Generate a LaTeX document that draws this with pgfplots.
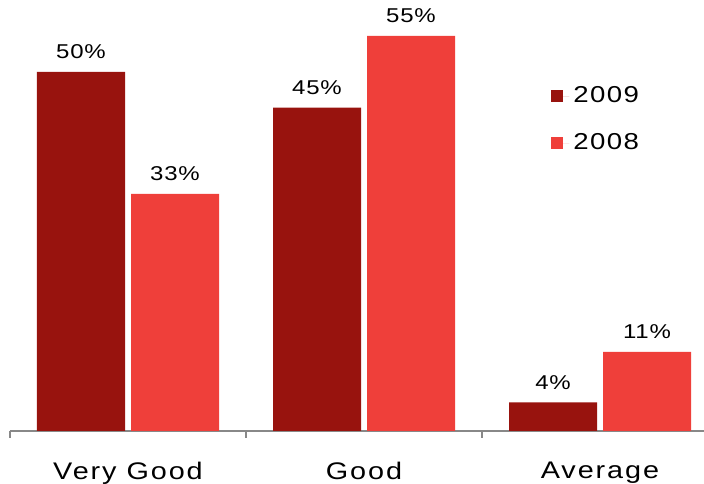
\documentclass[border=0pt]{standalone}
\usepackage{pgfplots}
\pgfplotsset{compat=1.18}
\usepackage{fontspec}
\setmainfont{Liberation Sans}
\definecolor{dk}{HTML}{98130E}
\definecolor{lt}{HTML}{EF3F3A}
\definecolor{axgray}{HTML}{888888}
\newfontfamily\labfont[FakeStretch=1.2,LetterSpace=8]{Liberation Sans}
\newfontfamily\legfont[FakeStretch=1.2,LetterSpace=6]{Liberation Sans}
\newfontfamily\numfont[FakeStretch=1.2,LetterSpace=4]{Liberation Sans}
\begin{document}
\begin{tikzpicture}
\begin{axis}[
  scale only axis,
  width=354pt, height=215.5pt,
  xmin=-0.5, xmax=2.5, ymin=0, ymax=60,
  axis x line*=bottom,
  hide y axis,
  axis line style={axgray, line width=1.3pt},
  xtick={-0.5,0.5,1.5,2.5},
  x tick label as interval,
  xticklabels={Very Good,Good,Average},
  tick align=outside,
  major tick length=3.5pt,
  tick style={axgray, line width=1pt},
  xticklabel style={font=\labfont\fontsize{12}{14}\selectfont, yshift=-8.5pt},
  /pgf/number format/assume math mode=true,
  nodes near coords={\pgfmathprintnumber[assume math mode=true]{\pgfplotspointmeta}\%},
  every node near coord/.append style={font=\numfont\fontsize{10}{12}\selectfont, black, yshift=3pt},
  legend style={draw=none, fill=none, at={(rel axis cs:0.7556,0.818)}, anchor=north west,
    font=\legfont\fontsize{11.5}{14}\selectfont, row sep=10pt},
  legend cell align=left,
  legend image code/.code={\fill[#1] (0pt,-3pt) rectangle (6pt,3pt); \path (0pt,0pt) -- (9pt,0pt);},
]
\addplot[ybar, bar width=44pt, bar shift=-23.5pt, fill=dk, draw=none,
  every node near coord/.append style={xshift=-23.5pt}] coordinates {(0,50) (1,45) (2,4)};
\addplot[ybar, bar width=44pt, bar shift=23.5pt, fill=lt, draw=none,
  every node near coord/.append style={xshift=23.5pt}] coordinates {(0,33) (1,55) (2,11)};
\legend{2009,2008}
\coordinate (bl) at (rel axis cs:0,0);
\coordinate (tr) at (rel axis cs:1,1);
\end{axis}
\pgfresetboundingbox
\path[use as bounding box] (bl) ++(-5pt,-26.5pt) rectangle ([xshift=-7pt]tr);
\end{tikzpicture}
\end{document}
